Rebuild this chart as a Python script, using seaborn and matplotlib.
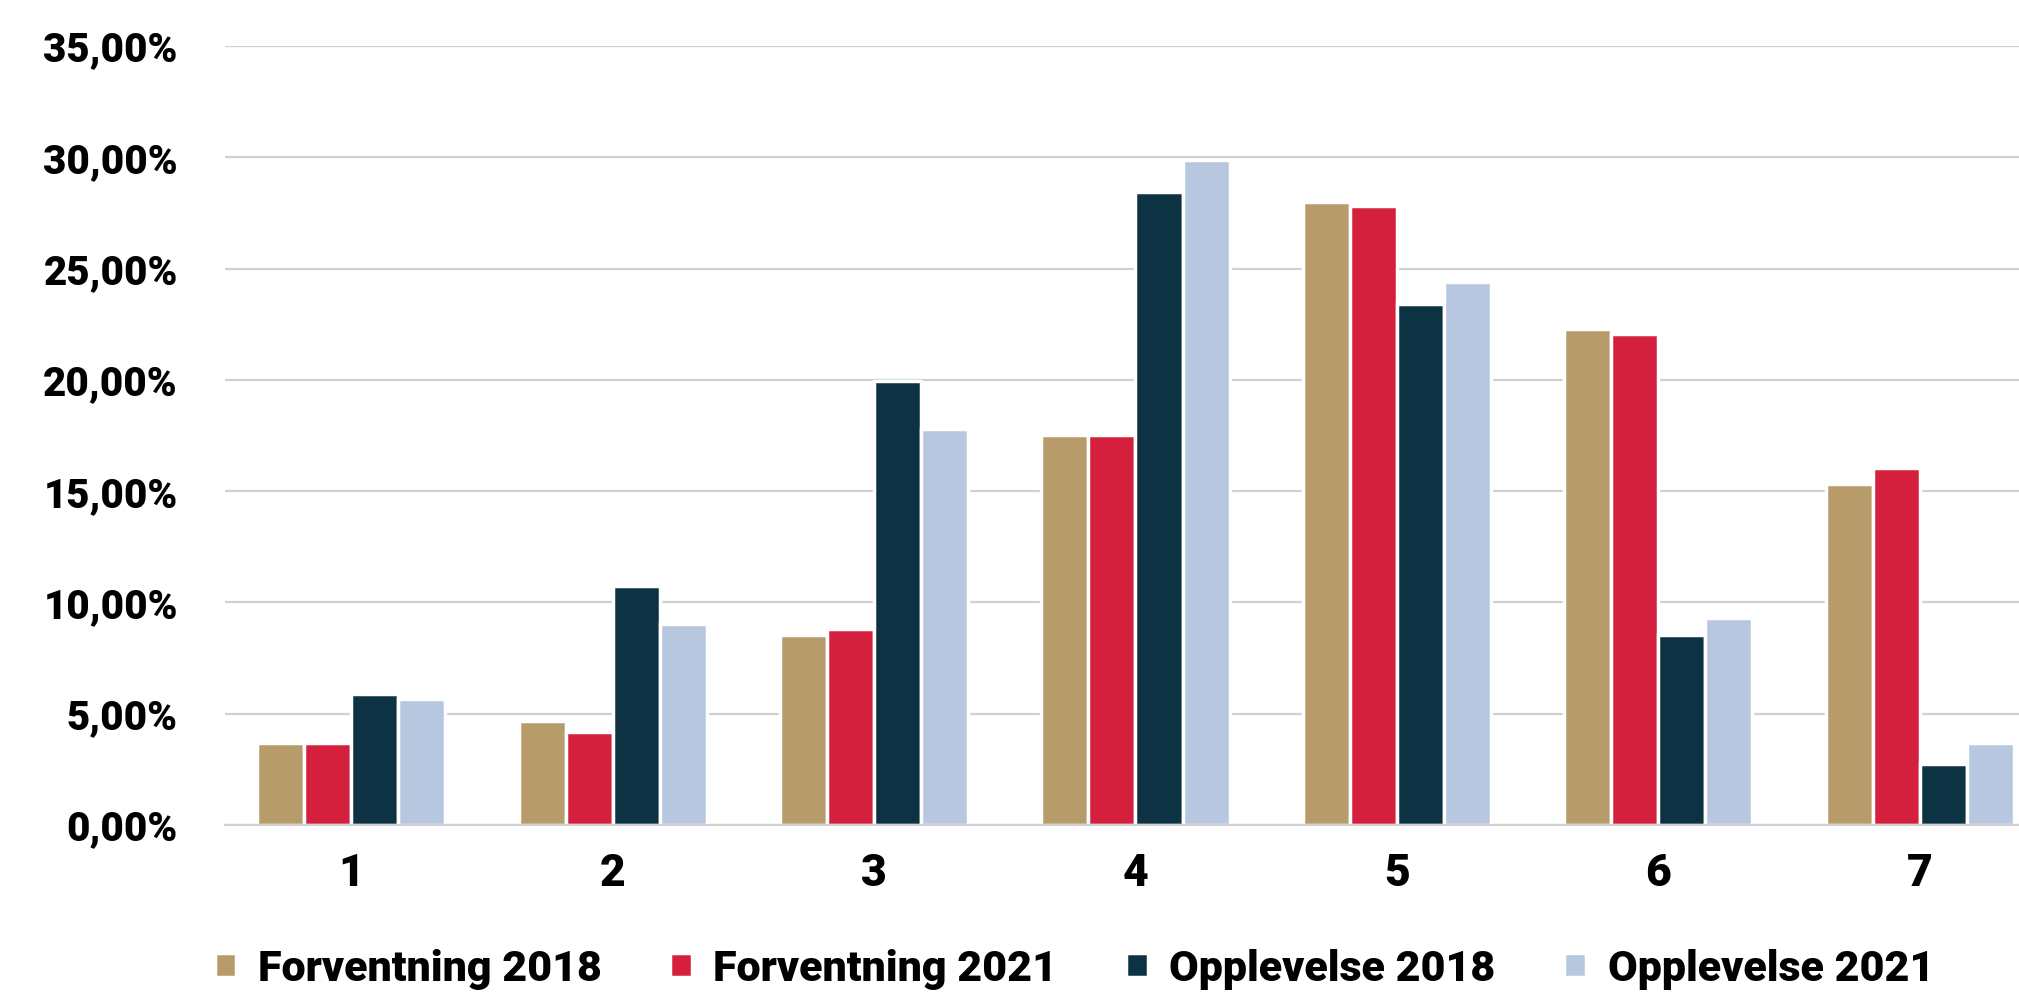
import numpy as np
import pandas as pd
import matplotlib
matplotlib.use("Agg")
import matplotlib.pyplot as plt
from matplotlib.ticker import FuncFormatter
import seaborn as sns

## Data
kategorier = ["1", "2", "3", "4", "5", "6", "7"]
serier = ["Forventning 2018", "Forventning 2021", "Opplevelse 2018", "Opplevelse 2021"]
forventning_2018 = [3.70, 4.68, 8.55, 17.50, 28.00, 22.30, 15.30]
forventning_2021 = [3.70, 4.20, 8.80, 17.50, 27.80, 22.08, 16.02]
opplevelse_2018 = [5.90, 10.75, 19.95, 28.45, 23.40, 8.55, 2.75]
opplevelse_2021 = [5.65, 9.05, 17.78, 29.90, 24.40, 9.28, 3.70]
farger = ["#b89b6a", "#d4203c", "#0d3244", "#b7c7e0"]

df = pd.DataFrame({
    "kategori": kategorier * 4,
    "serie": np.repeat(serier, len(kategorier)),
    "verdi": forventning_2018 + forventning_2021 + opplevelse_2018 + opplevelse_2021,
})

sns.set_theme(style="white")
plt.rcParams["font.family"] = ["Roboto", "DejaVu Sans"]

fig = plt.figure(figsize=(20.19, 9.97), dpi=100)
ax = fig.add_axes([225 / 2019, 1 - 825 / 997, 1 - 225 / 2019, (825 - 46) / 997])

sns.barplot(data=df, x="kategori", y="verdi", hue="serie", hue_order=serier,
            palette=farger, width=0.72, edgecolor="white", linewidth=2.5,
            saturation=1, ax=ax)

ax.set_ylim(0, 35)
ax.set_xlim(-0.483, 6.38)
ax.set_yticks(np.arange(0, 36, 5))
ax.yaxis.set_major_formatter(FuncFormatter(lambda v, p: f"{v:.2f}".replace(".", ",") + "%"))
ax.grid(axis="y", color="#d0d0d0", linewidth=1.6)
ax.set_axisbelow(True)
for s in ["left", "right", "top"]:
    ax.spines[s].set_visible(False)
ax.spines["bottom"].set_color("#d0d0d0")
ax.spines["bottom"].set_linewidth(1.6)
ax.set_xlabel("")
ax.set_ylabel("")
ax.tick_params(axis="y", length=0, pad=34, labelsize=29, labelcolor="black")
ax.tick_params(axis="x", length=0, pad=20, labelsize=32, labelcolor="black")
for lab in ax.get_yticklabels() + ax.get_xticklabels():
    lab.set_fontweight("heavy")

handles, labels = ax.get_legend_handles_labels()
ax.legend_.remove()
leg = fig.legend(handles, labels, loc="center left", bbox_to_anchor=(193 / 2019, 1 - 969 / 997),
                 ncol=4, frameon=False, handlelength=0.5, handleheight=0.5, handletextpad=0.5,
                 columnspacing=1.6, borderpad=0,
                 prop={"family": ["Roboto", "DejaVu Sans"], "weight": "heavy", "size": 31})
for t in leg.get_texts():
    t.set_color("black")

fig.savefig("out.png", dpi=100)
